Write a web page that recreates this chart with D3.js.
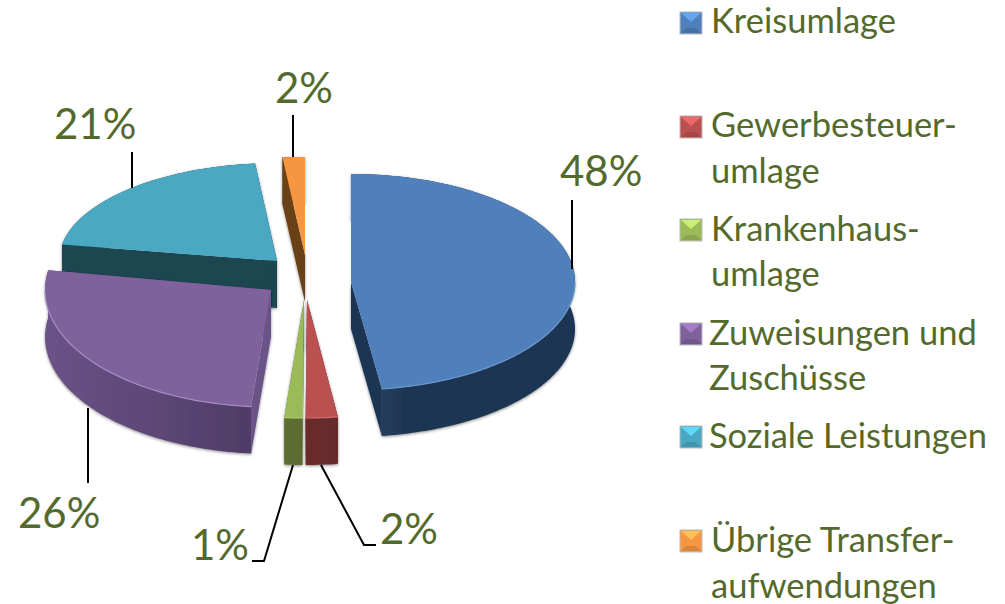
<!DOCTYPE html>
<html>
<head>
<meta charset="utf-8">
<script src="https://d3js.org/d3.v7.min.js"></script>
<style>
body { margin: 0; background: #fff; }
text { font-family: Lato, "Open Sans", sans-serif; fill: #546a2c; }
</style>
</head>
<body>
<div id="chart"></div>
<script>
// Data
var categories = ["Kreisumlage", "Gewerbesteuerumlage", "Krankenhausumlage", "Zuweisungen und Zuschüsse", "Soziale Leistungen", "Übrige Transferaufwendungen"];
var shares = [47.8, 2.3, 1.3, 26.3, 20.7, 1.6];
var legendLines = [["Kreisumlage"], ["Gewerbesteuer-", "umlage"], ["Krankenhaus-", "umlage"], ["Zuweisungen und", "Zuschüsse"], ["Soziale Leistungen"], ["Übrige Transfer-", "aufwendungen"]];

// Colours
var topColors = ["#4f80bb", "#bb5050", "#9bbb59", "#7f619c", "#4aa8c3", "#f59642"];
var wallLeft = ["#2c4869", "#6b2b2b", "#5e6f33", "#6b5287", "#1f4651", "#6a4015"];
var wallRight = ["#1e3552", "#642a2a", "#5a6b30", "#4f3d66", "#1f4651", "#6a4015"];
var rimColors = ["#6a97cd", "#cf6f6e", "#b0cc75", "#a58dc4", "#62bbd3", "#fbb070"];

// Layout of the exploded slices
var svgWidth = 1005;
var svgHeight = 604;
var depth = 47;
var apexX = [351, 307, 304, 271, 277, 305];
var apexY = [282, 300, 300, 290, 261, 255];
var radiusX = [224, 224, 224, 226, 218, 224];
var radiusY = [108, 118, 118, 117, 98, 98];
var drawOrder = [4, 5, 0, 3, 1, 2];

// Label positions
var labelX = [560, 380, 191, 18, 54, 275];
var labelY = [186, 544, 560, 528, 139, 103];
var leaderX = [[572, 572], [321, 364, 376], [293, 264, 252], [88, 88], [132, 132], [293, 293]];
var leaderY = [[200, 269], [465, 545, 545], [465, 561, 561], [408, 483], [152, 188], [115, 157]];
var legendTextX = [711, 711, 711, 709, 709, 711];
var legendBaseY = [[33], [137, 183], [241, 286], [345, 390], [448], [552, 598]];
var legendBoxY = [12, 116, 219, 323, 426, 530];

var svg = d3.select("#chart")
    .append("svg")
    .attr("width", svgWidth)
    .attr("height", svgHeight);

var defs = svg.append("defs");

var shadow = defs.append("filter")
    .attr("id", "shadow")
    .attr("x", "-20%").attr("y", "-20%")
    .attr("width", "140%").attr("height", "140%");
shadow.append("feDropShadow")
    .attr("dx", 0).attr("dy", 1)
    .attr("stdDeviation", 1.6)
    .attr("flood-color", "#000")
    .attr("flood-opacity", 0.45);

var soft = defs.append("filter").attr("id", "soft");
soft.append("feGaussianBlur").attr("stdDeviation", 0.6);

categories.forEach(function(c, i) {
    var grad = defs.append("linearGradient").attr("id", "wall" + i);
    grad.append("stop").attr("offset", "0%").attr("stop-color", wallLeft[i]);
    // blue goes dark quickly, the others fade across the whole wall
    grad.append("stop").attr("offset", i === 0 ? "25%" : "100%").attr("stop-color", wallRight[i]);
});

var pie = d3.pie().sort(null).value(function(d) { return d; });
var slices = pie(shares);

var line = d3.line().curve(d3.curveLinear);

// angle around the pie -> point on the tilted disc of slice i
function project(i, angle, r) {
    return [
        apexX[i] + r * radiusX[i] * Math.sin(angle),
        apexY[i] - r * radiusY[i] * Math.cos(angle)
    ];
}

function arcAngles(i) {
    var start = slices[i].startAngle;
    var end = slices[i].endAngle;
    var steps = Math.max(2, Math.ceil((end - start) / 0.02));
    return d3.range(steps + 1).map(function(k) {
        return start + (end - start) * k / steps;
    });
}

function down(p) { return [p[0], p[1] + depth]; }

var pieGroup = svg.append("g");

drawOrder.forEach(function(i) {
    var g = pieGroup.append("g").attr("class", "slice");
    var angles = arcAngles(i);
    var rim = angles.map(function(a) { return project(i, a, 1); });
    var apex = [apexX[i], apexY[i]];
    var first = rim[0];
    var last = rim[rim.length - 1];

    // radial walls and outer wall, all in one shadowed group
    var walls = g.append("g").attr("filter", "url(#shadow)");
    [first, last].forEach(function(corner) {
        walls.append("path")
            .attr("d", line([apex, corner, down(corner), down(apex)]) + "Z")
            .attr("fill", i === 3 ? wallLeft[3] : wallRight[i]);
    });
    walls.append("path")
        .attr("d", line(rim.concat(rim.map(down).reverse())) + "Z")
        .attr("fill", "url(#wall" + i + ")");

    // top face
    g.append("path")
        .attr("d", line([apex].concat(rim)) + "Z")
        .attr("fill", topColors[i]);

    // light bevel, only on the front part of the rim
    var front = angles.filter(function(a) { return Math.cos(a) < 0; })
        .map(function(a) { return project(i, a, 1); });
    if (front.length > 1) {
        g.append("path")
            .attr("d", line(front))
            .attr("fill", "none")
            .attr("stroke", rimColors[i])
            .attr("stroke-width", 1.2)
            .attr("filter", "url(#soft)");
    }
});

// Leader lines
categories.forEach(function(c, i) {
    svg.append("path")
        .attr("d", line(d3.zip(leaderX[i], leaderY[i])))
        .attr("fill", "none")
        .attr("stroke", "#000")
        .attr("stroke-width", 2);
});

// Percent labels
svg.selectAll(".pct")
    .data(shares)
    .enter()
    .append("text")
    .attr("class", "pct")
    .attr("x", function(d, i) { return labelX[i]; })
    .attr("y", function(d, i) { return labelY[i]; })
    .attr("font-size", 42)
    .text(function(d) { return Math.round(d) + "%"; });

// Legend
var boxX = 680;
var boxSize = 22;
var bevel = 6;

categories.forEach(function(c, i) {
    var y = legendBoxY[i];
    var g = svg.append("g").attr("class", "legend-item");
    var base = d3.color(topColors[i]);

    g.append("rect")
        .attr("x", boxX).attr("y", y)
        .attr("width", boxSize).attr("height", boxSize)
        .attr("fill", base)
        .attr("stroke", "#b9b9b9")
        .attr("stroke-width", 1);
    // bright wedge on top, darker wedge below
    g.append("path")
        .attr("d", line([[boxX + 1, y + 1], [boxX + boxSize - 1, y + 1], [boxX + boxSize / 2, y + bevel + 4]]) + "Z")
        .attr("fill", base.brighter(0.7));
    g.append("path")
        .attr("d", line([[boxX + 1, y + boxSize - 1], [boxX + boxSize - 1, y + boxSize - 1], [boxX + boxSize - bevel, y + boxSize - bevel], [boxX + bevel, y + boxSize - bevel]]) + "Z")
        .attr("fill", base.darker(0.35));

    legendLines[i].forEach(function(txt, k) {
        g.append("text")
            .attr("x", legendTextX[i])
            .attr("y", legendBaseY[i][k])
            .attr("font-size", 34.5)
            .text(txt);
    });
});
</script>
</body>
</html>
